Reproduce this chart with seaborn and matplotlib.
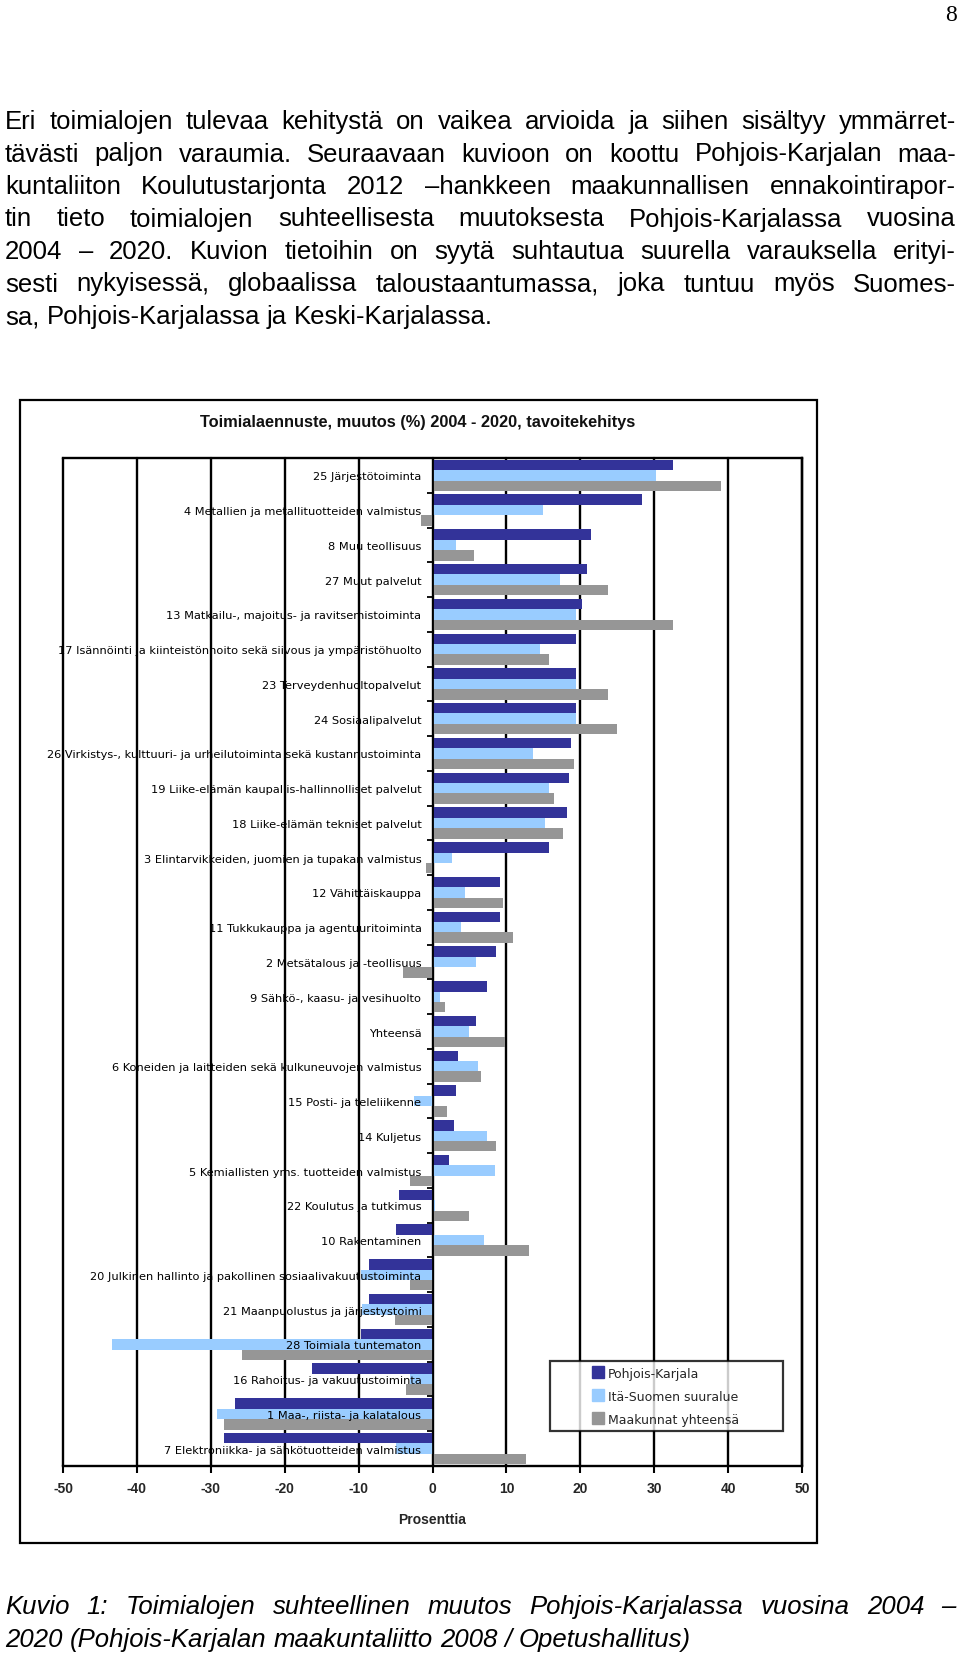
import numpy as np
import pandas as pd
import matplotlib
matplotlib.use("Agg")
import matplotlib.pyplot as plt
import seaborn as sns
from matplotlib import font_manager
from matplotlib.patches import Rectangle
from matplotlib.lines import Line2D
from matplotlib.ticker import FixedLocator

# ---------------- data ----------------
categories = [
    "25 Järjestötoiminta",
    "4 Metallien ja metallituotteiden valmistus",
    "8 Muu teollisuus",
    "27 Muut palvelut",
    "13 Matkailu-, majoitus- ja ravitsemistoiminta",
    "17 Isännöinti ja kiinteistönhoito sekä siivous ja ympäristöhuolto",
    "23 Terveydenhuoltopalvelut",
    "24 Sosiaalipalvelut",
    "26 Virkistys-, kulttuuri- ja urheilutoiminta sekä kustannustoiminta",
    "19 Liike-elämän kaupallis-hallinnolliset palvelut",
    "18 Liike-elämän tekniset palvelut",
    "3 Elintarvikkeiden, juomien ja tupakan valmistus",
    "12 Vähittäiskauppa",
    "11 Tukkukauppa ja agentuuritoiminta",
    "2 Metsätalous ja -teollisuus",
    "9 Sähkö-, kaasu- ja vesihuolto",
    "Yhteensä",
    "6 Koneiden ja laitteiden sekä kulkuneuvojen valmistus",
    "15 Posti- ja teleliikenne",
    "14 Kuljetus",
    "5 Kemiallisten yms. tuotteiden valmistus",
    "22 Koulutus ja tutkimus",
    "10 Rakentaminen",
    "20 Julkinen hallinto ja pakollinen sosiaalivakuutustoiminta",
    "21 Maanpuolustus ja järjestystoimi",
    "28 Toimiala tuntematon",
    "16 Rahoitus- ja vakuutustoiminta",
    "1 Maa-, riista- ja kalatalous",
    "7 Elektroniikka- ja sähkötuotteiden valmistus",
]
series_names = ["Pohjois-Karjala", "Itä-Suomen suuralue", "Maakunnat yhteensä"]
pohjois_karjala = [32.6, 28.4, 21.4, 20.9, 20.2, 19.4, 19.4, 19.4, 18.7, 18.5,
                   18.2, 15.8, 9.1, 9.1, 8.6, 7.4, 5.9, 3.5, 3.2, 2.9,
                   2.3, -4.6, -4.9, -8.6, -8.6, -9.7, -16.3, -26.7, -28.2]
ita_suomi = [30.2, 14.9, 3.2, 17.3, 19.4, 14.5, 19.4, 19.4, 13.6, 15.8,
             15.2, 2.6, 4.4, 3.8, 5.9, 1.0, 5.0, 6.2, -2.5, 7.4,
             8.5, 0.3, 7.0, -9.7, -9.5, -43.4, -3.0, -29.1, -4.9]
maakunnat = [39.1, -1.5, 5.6, 23.8, 32.6, 15.8, 23.8, 25.0, 19.1, 16.4,
             17.6, -0.9, 9.5, 10.9, -4.0, 1.7, 9.8, 6.5, 2.0, 8.6,
             -3.1, 4.9, 13.0, -3.1, -5.1, -25.8, -3.6, -28.2, 12.7]
x_ticks = [-50, -40, -30, -20, -10, 0, 10, 20, 30, 40, 50]
chart_title = "Toimialaennuste, muutos (%) 2004 - 2020, tavoitekehitys"
x_label = "Prosenttia"
page_number = "8"
paragraph_lines = [
    "Eri toimialojen tulevaa kehitystä on vaikea arvioida ja siihen sisältyy ymmärret-",
    "tävästi paljon varaumia. Seuraavaan kuvioon on koottu Pohjois-Karjalan maa-",
    "kuntaliiton Koulutustarjonta 2012 –hankkeen maakunnallisen ennakointirapor-",
    "tin tieto toimialojen suhteellisesta muutoksesta Pohjois-Karjalassa vuosina",
    "2004 – 2020. Kuvion tietoihin on syytä suhtautua suurella varauksella erityi-",
    "sesti nykyisessä, globaalissa taloustaantumassa, joka tuntuu myös Suomes-",
    "sa, Pohjois-Karjalassa ja Keski-Karjalassa.",
]
caption_lines = [
    "Kuvio 1: Toimialojen suhteellinen muutos Pohjois-Karjalassa vuosina 2004 –",
    "2020 (Pohjois-Karjalan maakuntaliitto 2008 / Opetushallitus)",
]
colors = ["#333399", "#99CCFF", "#969696"]

# ---------------- setup ----------------
W, H = 960, 1656
sns.set_theme(style="white")
plt.rcParams['font.family'] = ['DejaVu Sans']

available = {f.name for f in font_manager.fontManager.ttflist}
body_family = 'Liberation Sans'
for cand in ['Liberation Sans Narrow', 'Arial Narrow']:
    if cand in available:
        body_family = cand
        break
chart_family = 'Liberation Sans' if 'Liberation Sans' in available else 'DejaVu Sans'

fig = plt.figure(figsize=(W / 100, H / 100), dpi=100)
fig.patch.set_facecolor('white')


def fx(px):
    return px / W


def fy(py):
    return 1 - py / H


# ---------------- chart ----------------
ax = fig.add_axes([fx(63), fy(1467), fx(802) - fx(63), fy(459) - fy(1467)])
ax.set_facecolor('white')

n = len(categories)
df = pd.DataFrame({
    "Toimiala": categories * 3,
    "Sarja": np.repeat(series_names, n),
    "Muutos": pohjois_karjala + ita_suomi + maakunnat,
})
sns.barplot(data=df, y="Toimiala", x="Muutos", hue="Sarja", orient="h",
            order=categories, hue_order=series_names, palette=colors,
            saturation=1, width=0.9, dodge=True, errorbar=None,
            legend=False, linewidth=0, ax=ax)

ax.set_xlim(x_ticks[0], x_ticks[-1])
ax.set_ylim(n - 0.5, -0.5)

for t in x_ticks:
    ax.axvline(t, color='black', lw=1.7, zorder=0.6, clip_on=False)

for s in ['top', 'right', 'bottom']:
    ax.spines[s].set_color('black')
    ax.spines[s].set_linewidth(1.7)
ax.spines['left'].set_position(('data', 0))
ax.spines['left'].set_color('black')
ax.spines['left'].set_linewidth(1.3)
ax.spines['left'].set_zorder(4)

ax.set_xticks(x_ticks)
ax.set_xticklabels([str(t) for t in x_ticks], fontsize=10, fontweight='bold',
                   family=chart_family)
ax.tick_params(axis='x', which='major', bottom=True, direction='out', length=5,
               width=1.5, color='black', pad=6)

ax.set_yticks(range(n))
ax.set_yticklabels(categories, fontsize=8.2, color='black')
ax.tick_params(axis='y', which='major', left=True, length=0, pad=8)
ax.yaxis.set_minor_locator(FixedLocator(np.arange(-0.5, n, 1.0)))
ax.tick_params(axis='y', which='minor', left=True, direction='out', length=4,
               width=1.3, color='black')
ax.yaxis.set_zorder(5)

ax.set_ylabel('')
ax.set_xlabel(x_label, fontsize=10, fontweight='bold', family=chart_family,
              labelpad=12)

# chart title
fig.text(fx(418), fy(423), chart_title, ha='center', va='center',
         fontsize=11.8, fontweight='bold', family=chart_family, color='#111111')

# chart frame
fig.add_artist(Rectangle((fx(20), fy(1544)), fx(817) - fx(20), fy(401) - fy(1544),
                         transform=fig.transFigure, fill=False,
                         edgecolor='black', lw=1.6))

# legend
handles = [Line2D([], [], marker='s', linestyle='none', markersize=8.5,
                  markerfacecolor=c, markeredgecolor=c) for c in colors]
leg = ax.legend(handles, series_names, loc='upper left',
                bbox_to_anchor=(fx(550), fy(1435), fx(783) - fx(550), fy(1362) - fy(1435)),
                bbox_transform=fig.transFigure, mode='expand',
                fontsize=9, frameon=True, fancybox=False, shadow=False,
                borderpad=0.45, labelspacing=0.8, handlelength=6.7,
                handletextpad=-2.5, borderaxespad=0)
leg.get_frame().set_edgecolor('black')
leg.get_frame().set_linewidth(1.6)
leg.get_frame().set_facecolor('white')
leg.set_zorder(10)

# ---------------- page text ----------------
renderer = fig.canvas.get_renderer()


def text_width(s, size, style):
    t = fig.text(0, 0, s, fontsize=size, family=body_family, fontstyle=style)
    w = t.get_window_extent(renderer).width
    t.remove()
    return w


def fit_size(lines, size, style, avail):
    widest = max(text_width(l, size, style) for l in lines)
    if widest > avail * 0.97:
        size = size * avail * 0.97 / widest
    return size


def draw_justified(lines, left, right, baseline0, step, size, style, justify_last):
    space = text_width("a a", size, style) - text_width("aa", size, style)
    for i, line in enumerate(lines):
        yb = baseline0 + i * step
        words = line.split(' ')
        texts = [fig.text(0, 0, w, fontsize=size, family=body_family,
                          fontstyle=style, va='baseline', ha='left', color='black')
                 for w in words]
        widths = [t.get_window_extent(renderer).width for t in texts]
        last = (i == len(lines) - 1)
        if (last and not justify_last) or len(words) == 1:
            gap = space
        else:
            gap = (right - left - sum(widths)) / (len(words) - 1)
        x = left
        for t, w in zip(texts, widths):
            t.set_position((fx(x), fy(yb)))
            x += w + gap


left_px, right_px = 5, 956
body_size = fit_size(paragraph_lines, 18.5, 'normal', right_px - left_px)
draw_justified(paragraph_lines, left_px, right_px, 129, 32.5, body_size, 'normal', False)

cap_size = fit_size(caption_lines, 18.5, 'italic', right_px - left_px)
draw_justified(caption_lines, left_px, right_px, 1614, 33, cap_size, 'italic', False)

fig.text(fx(957), fy(21), page_number, ha='right', va='baseline', fontsize=17,
         family='Liberation Serif', color='black')

fig.savefig("out.png", dpi=100, facecolor='white')
